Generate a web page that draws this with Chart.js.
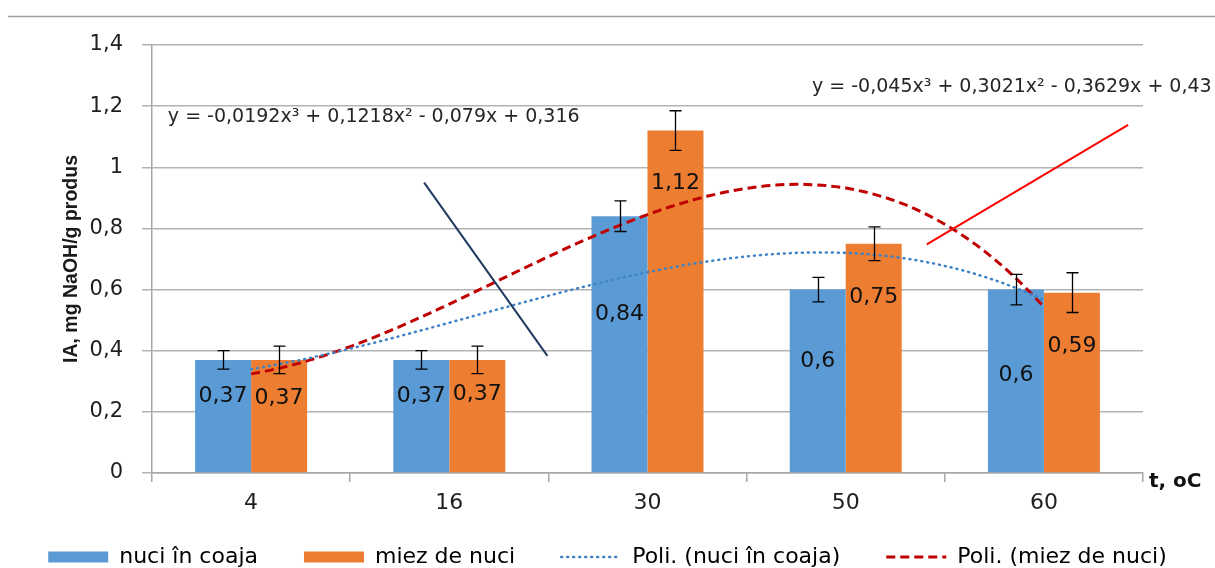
<!DOCTYPE html>
<html>
<head>
<meta charset="utf-8">
<script src="https://cdn.jsdelivr.net/npm/chart.js@4.4.1/dist/chart.umd.min.js"></script>
<style>
  html, body { margin: 0; padding: 0; background: #ffffff; }
  #wrap { width: 1215px; height: 568px; position: relative; }
</style>
</head>
<body>
<div id="wrap"><canvas id="c"></canvas></div>
<script>
// Temperature groups (t, oC)
const temps = ['4', '16', '30', '50', '60'];

// Acid index, mg NaOH/g product
const nuciInCoaja = [0.37, 0.37, 0.84, 0.6, 0.6];
const miezDeNuci  = [0.37, 0.37, 1.12, 0.75, 0.59];

// Error bar half-widths
const nuciErr = [0.03, 0.03, 0.05, 0.04, 0.05];
const miezErr = [0.045, 0.045, 0.065, 0.055, 0.065];

// Value labels as printed
const nuciLabels = ['0,37', '0,37', '0,84', '0,6', '0,6'];
const miezLabels = ['0,37', '0,37', '1,12', '0,75', '0,59'];

const yTickLabels = ['0', '0,2', '0,4', '0,6', '0,8', '1', '1,2', '1,4'];

// Cubic trend coefficients (x = 1..5 over the groups), highest power first
const nuciTrendCoef = [-0.0192, 0.1218, -0.079, 0.316];
const miezTrendCoef = [-0.045, 0.3021, -0.3629, 0.43];
const nuciEquation = 'y = -0,0192x³ + 0,1218x² - 0,079x + 0,316';
const miezEquation = 'y = -0,045x³ + 0,3021x² - 0,3629x + 0,43';

// Pointer lines from each equation towards its curve (group index, value)
const nuciPointer = [{ x: 0.873, y: 0.95 }, { x: 1.495, y: 0.383 }];
const miezPointer = [{ x: 3.409, y: 0.748 }, { x: 4.425, y: 1.139 }];

// Label placement below the bar top, in px
const nuciLabelDrop = [36, 36, 98, 72, 86];
const miezLabelDrop = [38, 34, 53, 54, 54];

const BLUE = '#5b9bd5';
const ORANGE = '#ed7d31';
const DOT_BLUE = '#3f83c6';
const DASH_RED = '#c00000';
const TEXT = '#1e1e1e';
const GRID = '#b3b3b3';
const AXIS = '#a6a6a6';

// Groups sit at positions 0..4 on a single numeric x axis
const asPoints = (vals) => vals.map((v, i) => ({ x: i, y: v }));

// Evaluate a cubic trend (x = group number 1..5) along the group axis
function trendCurve(coef) {
  const pts = [];
  for (let k = 0; k <= 80; k++) {
    const i = k / 20;
    const t = i + 1;
    pts.push({ x: i, y: ((coef[0] * t + coef[1]) * t + coef[2]) * t + coef[3] });
  }
  return pts;
}

const extras = {
  id: 'extras',
  afterLayout(chart) {
    // legend row sits just under the category labels
    const lg = chart.legend;
    const dy = lg.top - (chart.chartArea.bottom + 27);
    lg.top -= dy;
    lg.bottom -= dy;
  },
  beforeDraw(chart) {
    const ctx = chart.ctx;
    ctx.save();
    ctx.strokeStyle = '#a0a0a0';
    ctx.lineWidth = 1.5;
    ctx.beginPath();
    ctx.moveTo(8, 16.5);
    ctx.lineTo(chart.width, 16.5);
    ctx.stroke();
    ctx.restore();
  },
  afterDatasetsDraw(chart) {
    const ctx = chart.ctx;
    const ys = chart.scales.y;
    const xs = chart.scales.x;
    const area = chart.chartArea;

    // error bars
    ctx.save();
    ctx.strokeStyle = '#000000';
    ctx.lineWidth = 1.3;
    [[0, nuciInCoaja, nuciErr], [1, miezDeNuci, miezErr]].forEach(([di, vals, errs]) => {
      chart.getDatasetMeta(di).data.forEach((bar, i) => {
        const x = Math.round(bar.x) + 0.5;
        const top = ys.getPixelForValue(vals[i] + errs[i]);
        const bot = ys.getPixelForValue(vals[i] - errs[i]);
        ctx.beginPath();
        ctx.moveTo(x, top); ctx.lineTo(x, bot);
        ctx.moveTo(x - 6, top); ctx.lineTo(x + 6, top);
        ctx.moveTo(x - 6, bot); ctx.lineTo(x + 6, bot);
        ctx.stroke();
      });
    });
    ctx.restore();

    // value labels
    ctx.save();
    ctx.fillStyle = '#111111';
    ctx.font = '22px "DejaVu Sans"';
    ctx.textAlign = 'center';
    ctx.textBaseline = 'middle';
    [[0, nuciInCoaja, nuciLabels, nuciLabelDrop], [1, miezDeNuci, miezLabels, miezLabelDrop]].forEach(([di, vals, labs, drop]) => {
      chart.getDatasetMeta(di).data.forEach((bar, i) => {
        ctx.fillText(labs[i], bar.x, ys.getPixelForValue(vals[i]) + drop[i]);
      });
    });

    // trend equations
    ctx.font = '19px "DejaVu Sans"';
    ctx.fillStyle = '#262626';
    ctx.textAlign = 'left';
    ctx.fillText(nuciEquation, xs.getPixelForValue(-0.42), ys.getPixelForValue(1.165));
    ctx.fillText(miezEquation, xs.getPixelForValue(2.83), ys.getPixelForValue(1.263));

    // axis name at the end of the category axis
    ctx.font = 'bold 20px "DejaVu Sans"';
    ctx.fillStyle = '#111111';
    ctx.fillText('t, oC', area.right + 6, area.bottom + 9);
    ctx.restore();
  }
};

const lineCommon = { type: 'line', pointRadius: 0, fill: false, tension: 0 };

new Chart(document.getElementById('c'), {
  type: 'bar',
  data: {
    datasets: [
      { label: 'nuci în coaja', data: asPoints(nuciInCoaja), backgroundColor: BLUE, borderWidth: 0,
        categoryPercentage: 0.565, barPercentage: 1.0, order: 2 },
      { label: 'miez de nuci', data: asPoints(miezDeNuci), backgroundColor: ORANGE, borderWidth: 0,
        categoryPercentage: 0.565, barPercentage: 1.0, order: 2 },
      { ...lineCommon, label: 'Poli. (nuci în coaja)', data: trendCurve(nuciTrendCoef),
        borderColor: DOT_BLUE, borderWidth: 2.5, borderDash: [1, 5], borderCapStyle: 'round', order: 1 },
      { ...lineCommon, label: 'Poli. (miez de nuci)', data: trendCurve(miezTrendCoef),
        borderColor: DASH_RED, borderWidth: 3, borderDash: [9, 5], order: 1 },
      { ...lineCommon, label: 'pointer1', data: nuciPointer,
        borderColor: '#1f3a60', borderWidth: 2, order: 0 },
      { ...lineCommon, label: 'pointer2', data: miezPointer,
        borderColor: '#ff0000', borderWidth: 2, order: 0 }
    ]
  },
  options: {
    responsive: true,
    maintainAspectRatio: false,
    animation: false,
    events: [],
    layout: { padding: { top: 45, left: 0, right: 0, bottom: -26 } },
    plugins: {
      tooltip: { enabled: false },
      legend: {
        position: 'bottom',
        align: 'center',
        labels: {
          usePointStyle: true,
          pointStyleWidth: 60,
          boxHeight: 11,
          padding: 46,
          color: TEXT,
          font: { family: 'DejaVu Sans', size: 22 },
          generateLabels: () => [
            { text: 'nuci în coaja', fillStyle: BLUE, strokeStyle: BLUE, lineWidth: 0, pointStyle: 'rect' },
            { text: 'miez de nuci', fillStyle: ORANGE, strokeStyle: ORANGE, lineWidth: 0, pointStyle: 'rect' },
            { text: 'Poli. (nuci în coaja)', fillStyle: 'rgba(0,0,0,0)', strokeStyle: DOT_BLUE, lineWidth: 2.5,
              lineDash: [1, 5], lineCap: 'round', pointStyle: 'line' },
            { text: 'Poli. (miez de nuci)', fillStyle: 'rgba(0,0,0,0)', strokeStyle: DASH_RED, lineWidth: 3,
              lineDash: [9, 5], pointStyle: 'line' }
          ]
        }
      }
    },
    scales: {
      x: {
        type: 'linear',
        min: -0.5,
        max: 4.5,
        offset: false,
        afterBuildTicks(s) { s.ticks = temps.map((_, i) => ({ value: i })); },
        grid: { offset: true, drawOnChartArea: false, tickLength: 9, color: AXIS, lineWidth: 1.5 },
        border: { color: AXIS, width: 1.5 },
        ticks: {
          font: { family: 'DejaVu Sans', size: 22 },
          color: TEXT,
          padding: 8,
          autoSkip: false,
          maxRotation: 0,
          callback: (v, i) => temps[i]
        },
        afterFit(s) { s.height = 43; }
      },
      y: {
        min: 0,
        max: 1.4,
        ticks: {
          stepSize: 0.2,
          padding: 19,
          font: { family: 'DejaVu Sans', size: 21 },
          color: TEXT,
          callback: (v, i) => yTickLabels[i]
        },
        grid: { color: GRID, lineWidth: 1.5, tickLength: 10 },
        border: { color: AXIS, width: 1.5 },
        title: {
          display: true,
          text: 'IA, mg NaOH/g produs',
          color: '#1a1a1a',
          font: { family: 'Liberation Sans', weight: 'bold', size: 19.5 },
          padding: { top: 60, bottom: 0 }
        },
        afterFit(s) { s.width = 152; }
      },
      yR: {
        position: 'right',
        display: true,
        grid: { display: false },
        border: { display: false },
        ticks: { display: false },
        afterFit(s) { s.width = 72; }
      }
    }
  },
  plugins: [extras]
});
</script>
</body>
</html>
